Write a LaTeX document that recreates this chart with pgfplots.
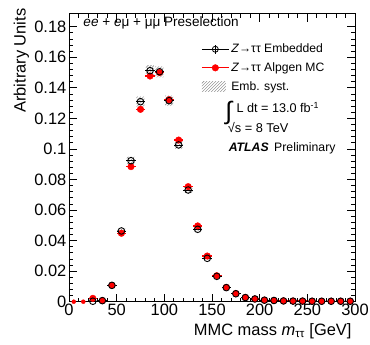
\documentclass[border=0pt]{standalone}
\usepackage{pgfplots}
\pgfplotsset{compat=1.18}
\usepackage{pgfplotstable}
\usetikzlibrary{patterns}
\usepackage{fontspec}
\setmainfont{Liberation Sans}

\pgfplotstableread{
x emb alp syst
25 0.0003 0.0022 0.0003
35 0.0007 0.0007 0.0003
45 0.0107 0.0107 0.0006
55 0.0463 0.0448 0.0015
65 0.0923 0.0884 0.0025
75 0.1309 0.1259 0.0033
85 0.1512 0.1477 0.0036
95 0.1505 0.1500 0.0036
105 0.1316 0.1322 0.0032
115 0.1026 0.1058 0.0026
125 0.0731 0.0753 0.0019
135 0.0474 0.0496 0.0013
145 0.0284 0.0299 0.0009
155 0.0166 0.0170 0.0006
165 0.0092 0.0094 0.0004
175 0.0052 0.0054 0.0003
185 0.0027 0.0028 0.0003
195 0.0018 0.0018 0.0003
205 0.0010 0.0010 0.0003
215 0.0008 0.0008 0.0003
225 0.0005 0.0005 0.0003
235 0.0004 0.0004 0.0003
245 0.0004 0.0004 0.0003
255 0.0003 0.0003 0.0003
265 0.0003 0.0003 0.0003
275 0.0003 0.0003 0.0003
285 0.0003 0.0003 0.0003
295 0.0003 0.0003 0.0003
}\datatab

\begin{document}
\begin{tikzpicture}
\begin{axis}[
  scale only axis,
  width=286bp, height=287.7bp,
  xmin=0, xmax=300, ymin=0, ymax=0.1883,
  axis on top,
  xtick={0,50,...,300}, minor x tick num=4,
  ytick={0,0.02,0.04,0.06,0.08,0.1,0.12,0.14,0.16,0.18}, minor y tick num=4,
  scaled y ticks=false,
  yticklabel style={/pgf/number format/fixed, /pgf/number format/precision=2, inner sep=2.5bp},
  xticklabel style={inner sep=2bp},
  /pgf/number format/assume math mode=true,
  tick label style={font=\fontsize{16.5}{18}\selectfont},
  tick align=inside, tick pos=both,
  major tick length=8bp, minor tick length=4bp,
  axis line style={line width=1pt},
  every tick/.style={black, line width=0.8pt},
  ylabel={Arbitrary Units},
  ylabel style={font=\fontsize{16.5}{18}\selectfont, at={(axis description cs:-0.206,1.031)}, anchor=north east},
  xlabel={MMC mass \textit{m}\textsubscript{ττ} [GeV]},
  xlabel style={font=\fontsize{16.5}{18}\selectfont, at={(axis description cs:1,-0.117)}, anchor=base east},
  legend style={draw=none, fill=none, at={(axis description cs:0.462,0.903)}, anchor=north west,
    font=\fontsize{12.2}{14}\selectfont, row sep=4.3bp, inner sep=0pt,
    /tikz/every even column/.append style={column sep=3bp}},
  legend cell align=left,
  reverse legend,
]
\coordinate (o) at (rel axis cs:0,0);
\addplot[ybar, bar width=8.6, bar shift=0pt, draw=none, pattern=north east lines, pattern color=gray,
  legend image code/.code={\fill[pattern=north east lines, pattern color=gray] (0bp,-5bp) rectangle (24bp,5bp);}]
  table[x=x, y expr=\thisrow{emb}+\thisrow{syst}] {\datatab};
\addlegendentry{Emb. syst.}
\addplot[ybar, bar width=11, bar shift=0pt, draw=none, fill=white, forget plot]
  table[x=x, y expr=\thisrow{emb}-\thisrow{syst}] {\datatab};
\addplot[red, only marks, mark=none, forget plot, error bars/.cd, x dir=both, x fixed=5, error mark=none,
  error bar style={red, line width=1.2pt}] coordinates {(5,0) (15,0)};
\addplot[red, only marks, mark=*, mark size=3.3bp, mark options={fill=red, draw=red},
  legend image code/.code={\draw[red, line width=1pt] (0bp,0bp)--(27bp,0bp); \fill[red] (13.5bp,0bp) circle (3.3bp);},
  error bars/.cd, x dir=both, x fixed=5, error mark=none, error bar style={red, line width=1.2pt}]
  table[x=x, y=alp] {\datatab};
\addlegendentry{\textit{Z}→ττ Alpgen MC}
\addplot[black, only marks, mark=o, mark size=3.3bp, mark options={line width=0.9pt},
  legend image code/.code={\draw[black, line width=0.8pt] (0bp,0bp)--(27bp,0bp); \draw[black, line width=0.8pt] (13.5bp,-4.5bp)--(13.5bp,4.5bp); \draw[black, line width=0.8pt] (13.5bp,0bp) circle (3bp);},
  error bars/.cd, x dir=both, x fixed=5, error mark=none, error bar style={black, line width=0.8pt}]
  table[x=x, y=emb] {\datatab};
\addlegendentry{\textit{Z}→ττ Embedded}
\node[anchor=base west, font=\fontsize{13.6}{16}\selectfont, inner sep=0pt] at (axis description cs:0.05,0.957) {\textit{ee} + \textit{e}μ + μμ Preselection};
\node[anchor=base west, font=\fontsize{25}{25}\selectfont, inner sep=0pt] at (axis description cs:0.546,0.635) {∫};
\node[anchor=base west, font=\fontsize{12.7}{15}\selectfont, inner sep=0pt] at (axis description cs:0.585,0.657) {L dt = 13.0 fb\textsuperscript{-1}};
\node[anchor=base west, font=\fontsize{12.8}{15}\selectfont, inner sep=0pt] at (axis description cs:0.555,0.589) {√s = 8 TeV};
\node[anchor=base west, font=\fontsize{12.3}{14}\selectfont, inner sep=0pt] at (axis description cs:0.558,0.521) {\textbf{\textit{ATLAS}}\hspace{0.45em}Preliminary};
\end{axis}
\pgfresetboundingbox
\path ([shift={(-69bp,-43.3bp)}]o) rectangle ([shift={(301bp,301.7bp)}]o);
\end{tikzpicture}
\end{document}
